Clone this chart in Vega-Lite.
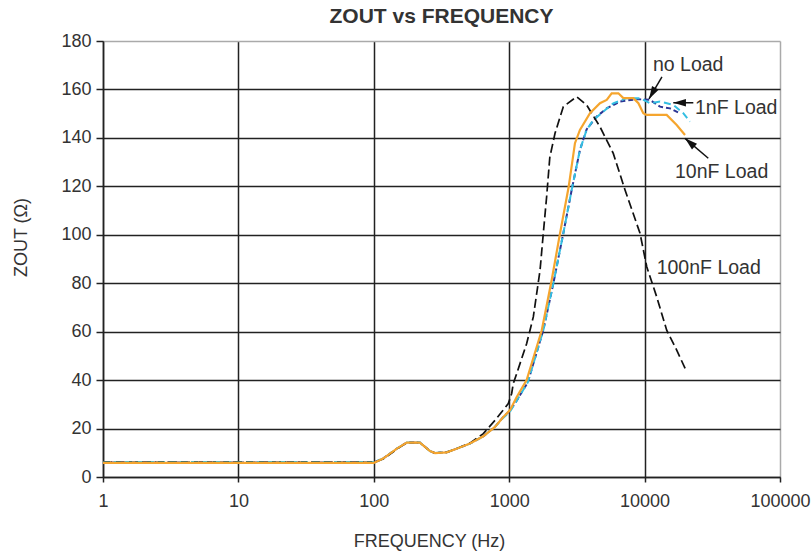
{
 "$schema": "https://vega.github.io/schema/vega-lite/v6.json",
 "width": 677, "height": 436,
 "autosize": {"type": "none"},
 "padding": {"left": 103, "top": 41, "right": 31, "bottom": 81},
 "background": "white",
 "config": {
  "view": {"stroke": null},
  "font": "Liberation Sans",
  "axis": {"labelFont": "Liberation Sans", "labelFontSize": 18, "labelColor": "#333", "titleFont": "Liberation Sans", "titleFontSize": 18, "titleFontWeight": "normal", "titleColor": "#333", "domainColor": "#222", "domainWidth": 1.5, "tickColor": "#222", "tickWidth": 1.5, "gridWidth": 1.5, "labelOverlap": false, "labelFlush": false}
 },
 "title": {"text": "ZOUT vs FREQUENCY", "font": "Liberation Sans", "fontSize": 21, "fontWeight": "bold", "color": "#333", "baseline": "alphabetic", "offset": -12, "anchor": "middle"},
 "datasets": {
  "curves": [
   {"s":"no Load","f":1,"z":6},{"s":"no Load","f":100,"z":6},{"s":"no Load","f":117,"z":7.6},{"s":"no Load","f":148,"z":11.7},{"s":"no Load","f":175,"z":14.2},{"s":"no Load","f":219,"z":14.2},{"s":"no Load","f":260,"z":10.7},{"s":"no Load","f":283,"z":9.9},{"s":"no Load","f":345,"z":10.2},{"s":"no Load","f":409,"z":11.7},{"s":"no Load","f":513,"z":13.8},{"s":"no Load","f":644,"z":16.8},{"s":"no Load","f":785,"z":20.7},{"s":"no Load","f":905,"z":24.8},{"s":"no Load","f":1014,"z":27.4},{"s":"no Load","f":1150,"z":32},{"s":"no Load","f":1370,"z":39},{"s":"no Load","f":1786,"z":60.6},{"s":"no Load","f":2120,"z":80},{"s":"no Load","f":2510,"z":100.6},{"s":"no Load","f":2893,"z":118.5},{"s":"no Load","f":3330,"z":135},{"s":"no Load","f":3730,"z":143.5},{"s":"no Load","f":4430,"z":148.8},{"s":"no Load","f":5250,"z":152.2},{"s":"no Load","f":6580,"z":155},{"s":"no Load","f":8750,"z":156},{"s":"no Load","f":10960,"z":155.7},{"s":"no Load","f":13000,"z":152.9},{"s":"no Load","f":15400,"z":152.2},{"s":"no Load","f":18200,"z":150.2},
   {"s":"1nF Load","f":1,"z":6.2},{"s":"1nF Load","f":100,"z":6.2},{"s":"1nF Load","f":117,"z":7.6},{"s":"1nF Load","f":148,"z":11.7},{"s":"1nF Load","f":175,"z":14.2},{"s":"1nF Load","f":219,"z":14.2},{"s":"1nF Load","f":260,"z":10.7},{"s":"1nF Load","f":283,"z":9.9},{"s":"1nF Load","f":345,"z":10.2},{"s":"1nF Load","f":409,"z":11.7},{"s":"1nF Load","f":513,"z":13.8},{"s":"1nF Load","f":644,"z":16.8},{"s":"1nF Load","f":785,"z":20.7},{"s":"1nF Load","f":905,"z":24.5},{"s":"1nF Load","f":1014,"z":27},{"s":"1nF Load","f":1150,"z":32},{"s":"1nF Load","f":1370,"z":39},{"s":"1nF Load","f":1786,"z":60.6},{"s":"1nF Load","f":2120,"z":80},{"s":"1nF Load","f":2510,"z":100.6},{"s":"1nF Load","f":2893,"z":118.5},{"s":"1nF Load","f":3330,"z":135},{"s":"1nF Load","f":3730,"z":143.3},{"s":"1nF Load","f":4180,"z":147.4},{"s":"1nF Load","f":4950,"z":150.8},{"s":"1nF Load","f":5870,"z":154.3},{"s":"1nF Load","f":7380,"z":156.4},{"s":"1nF Load","f":9250,"z":156.4},{"s":"1nF Load","f":10960,"z":154.3},{"s":"1nF Load","f":13000,"z":155},{"s":"1nF Load","f":16300,"z":153.6},{"s":"1nF Load","f":19300,"z":150.2},{"s":"1nF Load","f":21600,"z":146.7},
   {"s":"100nF Load","f":1,"z":6},{"s":"100nF Load","f":100,"z":6},{"s":"100nF Load","f":117,"z":7.4},{"s":"100nF Load","f":148,"z":11.5},{"s":"100nF Load","f":175,"z":14.2},{"s":"100nF Load","f":219,"z":14.2},{"s":"100nF Load","f":260,"z":10.7},{"s":"100nF Load","f":283,"z":9.9},{"s":"100nF Load","f":345,"z":10.2},{"s":"100nF Load","f":409,"z":11.7},{"s":"100nF Load","f":513,"z":14},{"s":"100nF Load","f":644,"z":17.9},{"s":"100nF Load","f":785,"z":23.4},{"s":"100nF Load","f":985,"z":30.3},{"s":"100nF Load","f":1043,"z":34.5},{"s":"100nF Load","f":1072,"z":38.6},{"s":"100nF Load","f":1136,"z":42.7},{"s":"100nF Load","f":1346,"z":55.1},{"s":"100nF Load","f":1507,"z":66.1},{"s":"100nF Load","f":1690,"z":85.4},{"s":"100nF Load","f":1786,"z":100.6},{"s":"100nF Load","f":1890,"z":115.7},{"s":"100nF Load","f":1995,"z":132},{"s":"100nF Load","f":2180,"z":141.9},{"s":"100nF Load","f":2510,"z":152.9},{"s":"100nF Load","f":3150,"z":157},{"s":"100nF Load","f":3730,"z":153.6},{"s":"100nF Load","f":4680,"z":144.6},{"s":"100nF Load","f":5870,"z":133.6},{"s":"100nF Load","f":7170,"z":118.5},{"s":"100nF Load","f":9250,"z":100.6},{"s":"100nF Load","f":10370,"z":86.8},{"s":"100nF Load","f":12280,"z":74.4},{"s":"100nF Load","f":14560,"z":60.6},{"s":"100nF Load","f":17260,"z":52.4},{"s":"100nF Load","f":20460,"z":43.4},
   {"s":"10nF Load","f":1,"z":5.8},{"s":"10nF Load","f":100,"z":5.8},{"s":"10nF Load","f":117,"z":7.6},{"s":"10nF Load","f":148,"z":11.7},{"s":"10nF Load","f":175,"z":14.2},{"s":"10nF Load","f":219,"z":14.2},{"s":"10nF Load","f":260,"z":10.7},{"s":"10nF Load","f":283,"z":9.9},{"s":"10nF Load","f":345,"z":10.2},{"s":"10nF Load","f":409,"z":11.7},{"s":"10nF Load","f":513,"z":13.8},{"s":"10nF Load","f":644,"z":16.8},{"s":"10nF Load","f":785,"z":20.7},{"s":"10nF Load","f":905,"z":24.8},{"s":"10nF Load","f":1014,"z":27.6},{"s":"10nF Load","f":1136,"z":33},{"s":"10nF Load","f":1345,"z":40},{"s":"10nF Load","f":1740,"z":60.6},{"s":"10nF Load","f":2060,"z":81.3},{"s":"10nF Load","f":2373,"z":100.6},{"s":"10nF Load","f":2750,"z":119.8},{"s":"10nF Load","f":3060,"z":137.8},{"s":"10nF Load","f":3330,"z":143.3},{"s":"10nF Load","f":3950,"z":150.2},{"s":"10nF Load","f":4680,"z":154.3},{"s":"10nF Load","f":5250,"z":155.7},{"s":"10nF Load","f":5710,"z":158.4},{"s":"10nF Load","f":6400,"z":158.4},{"s":"10nF Load","f":6970,"z":156.4},{"s":"10nF Load","f":8260,"z":156.4},{"s":"10nF Load","f":9000,"z":154.3},{"s":"10nF Load","f":9780,"z":150.2},{"s":"10nF Load","f":10300,"z":149.5},{"s":"10nF Load","f":14560,"z":149.5},{"s":"10nF Load","f":17260,"z":145.3},{"s":"10nF Load","f":19880,"z":141.2}
  ],
  "arrows": [
   {"label":"no Load","f":13430,"z":165.2,"f2":10780,"z2":156.1},
   {"label":"1nF Load","f":22900,"z":154.5,"f2":16290,"z2":154.5},
   {"label":"10nF Load","f":29530,"z":131.6,"f2":19870,"z2":139.8}
  ],
  "labels": [
   {"label":"no Load","f":11530,"z":170},
   {"label":"1nF Load","f":23570,"z":152.4},
   {"label":"10nF Load","f":16770,"z":126},
   {"label":"100nF Load","f":12280,"z":86.1}
  ]
 },
 "layer": [
  {
   "data": {"name": "curves"},
   "transform": [{"filter": "datum.s === 'no Load'"}],
   "mark": {"type": "line", "color": "#2B3594", "strokeWidth": 2, "strokeDash": [5, 3]},
   "encoding": {
    "x": {"field": "f", "type": "quantitative", "title": "FREQUENCY (Hz)",
          "scale": {"type": "log", "domain": [1, 100000], "nice": false},
          "axis": {"values": [1, 10, 100, 1000, 10000, 100000], "format": "d", "tickSize": 5, "labelPadding": 10, "titleX": 326, "titleY": 69, "titleBaseline": "alphabetic", "titleAnchor": null,
                   "gridColor": {"condition": {"test": "datum.value >= 99999", "value": "#aaaaaa"}, "value": "#222222"}}},
    "y": {"field": "z", "type": "quantitative", "title": "ZOUT (Ω)",
          "scale": {"domain": [0, 180], "nice": false},
          "axis": {"values": [0, 20, 40, 60, 80, 100, 120, 140, 160, 180], "tickSize": 7, "labelPadding": 5, "titleAngle": -90, "titleX": -77, "titleY": 196, "titleBaseline": "alphabetic", "titleAlign": "center",
                   "gridColor": {"condition": {"test": "datum.value >= 179", "value": "#aaaaaa"}, "value": "#222222"}}}
   }
  },
  {
   "data": {"name": "curves"},
   "transform": [{"filter": "datum.s === '1nF Load'"}],
   "mark": {"type": "line", "color": "#33BEE2", "strokeWidth": 2, "strokeDash": [7, 4]},
   "encoding": {
    "x": {"field": "f", "type": "quantitative", "title": "FREQUENCY (Hz)", "scale": {"type": "log", "domain": [1, 100000], "nice": false}},
    "y": {"field": "z", "type": "quantitative", "title": "ZOUT (Ω)", "scale": {"domain": [0, 180], "nice": false}}
   }
  },
  {
   "data": {"name": "curves"},
   "transform": [{"filter": "datum.s === '100nF Load'"}],
   "mark": {"type": "line", "color": "#111111", "strokeWidth": 1.7, "strokeDash": [9, 4]},
   "encoding": {
    "x": {"field": "f", "type": "quantitative", "title": "FREQUENCY (Hz)", "scale": {"type": "log", "domain": [1, 100000], "nice": false}},
    "y": {"field": "z", "type": "quantitative", "title": "ZOUT (Ω)", "scale": {"domain": [0, 180], "nice": false}}
   }
  },
  {
   "data": {"name": "curves"},
   "transform": [{"filter": "datum.s === '10nF Load'"}],
   "mark": {"type": "line", "color": "#F5A52E", "strokeWidth": 2.2},
   "encoding": {
    "x": {"field": "f", "type": "quantitative", "title": "FREQUENCY (Hz)", "scale": {"type": "log", "domain": [1, 100000], "nice": false}},
    "y": {"field": "z", "type": "quantitative", "title": "ZOUT (Ω)", "scale": {"domain": [0, 180], "nice": false}}
   }
  },
  {
   "data": {"name": "arrows"},
   "mark": {"type": "rule", "color": "#111111", "strokeWidth": 1.5},
   "encoding": {
    "x": {"field": "f", "type": "quantitative", "title": "FREQUENCY (Hz)", "scale": {"type": "log", "domain": [1, 100000], "nice": false}},
    "y": {"field": "z", "type": "quantitative", "title": "ZOUT (Ω)", "scale": {"domain": [0, 180], "nice": false}},
    "x2": {"field": "f2"},
    "y2": {"field": "z2"}
   }
  },
  {
   "data": {"name": "arrows"},
   "transform": [{"filter": "datum.label === 'no Load'"}],
   "mark": {"type": "point", "shape": "M0,0L0.6,2L-0.6,2Z", "filled": true, "opacity": 1, "color": "#111111", "size": 160, "angle": 210},
   "encoding": {
    "x": {"field": "f2", "type": "quantitative", "title": "FREQUENCY (Hz)", "scale": {"type": "log", "domain": [1, 100000], "nice": false}},
    "y": {"field": "z2", "type": "quantitative", "title": "ZOUT (Ω)", "scale": {"domain": [0, 180], "nice": false}}
   }
  },
  {
   "data": {"name": "arrows"},
   "transform": [{"filter": "datum.label === '1nF Load'"}],
   "mark": {"type": "point", "shape": "M0,0L0.6,2L-0.6,2Z", "filled": true, "opacity": 1, "color": "#111111", "size": 160, "angle": 270},
   "encoding": {
    "x": {"field": "f2", "type": "quantitative", "title": "FREQUENCY (Hz)", "scale": {"type": "log", "domain": [1, 100000], "nice": false}},
    "y": {"field": "z2", "type": "quantitative", "title": "ZOUT (Ω)", "scale": {"domain": [0, 180], "nice": false}}
   }
  },
  {
   "data": {"name": "arrows"},
   "transform": [{"filter": "datum.label === '10nF Load'"}],
   "mark": {"type": "point", "shape": "M0,0L0.6,2L-0.6,2Z", "filled": true, "opacity": 1, "color": "#111111", "size": 160, "angle": 311},
   "encoding": {
    "x": {"field": "f2", "type": "quantitative", "title": "FREQUENCY (Hz)", "scale": {"type": "log", "domain": [1, 100000], "nice": false}},
    "y": {"field": "z2", "type": "quantitative", "title": "ZOUT (Ω)", "scale": {"domain": [0, 180], "nice": false}}
   }
  },
  {
   "data": {"name": "labels"},
   "mark": {"type": "text", "align": "left", "baseline": "middle", "font": "Liberation Sans", "fontSize": 19.5, "color": "#333333"},
   "encoding": {
    "x": {"field": "f", "type": "quantitative", "title": "FREQUENCY (Hz)", "scale": {"type": "log", "domain": [1, 100000], "nice": false}},
    "y": {"field": "z", "type": "quantitative", "title": "ZOUT (Ω)", "scale": {"domain": [0, 180], "nice": false}},
    "text": {"field": "label"}
   }
  }
 ]
}
